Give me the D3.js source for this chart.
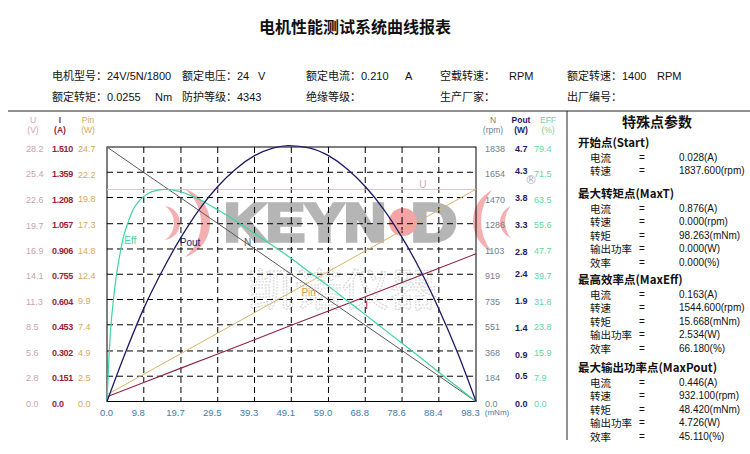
<!DOCTYPE html>
<html><head><meta charset="utf-8">
<script src="https://cdn.jsdelivr.net/npm/d3@7/dist/d3.min.js"></script>
<style>body{margin:0;background:#fff}svg{display:block}</style>
</head><body><svg id="c" width="750" height="454"></svg>
<script>
// ---------- data ----------
const torqueTicks = ["0.0","9.8","19.7","29.5","39.3","49.1","59.0","68.8","78.6","88.4","98.3"];
const uTicks   = ["0.0","2.8","5.6","8.5","11.3","14.1","16.9","19.7","22.6","25.4","28.2"];
const iTicks   = ["0.0","0.151","0.302","0.453","0.604","0.755","0.906","1.057","1.208","1.359","1.510"];
const pinTicks = ["0.0","2.5","4.9","7.4","9.9","12.4","14.8","17.3","19.8","22.2","24.7"];
const nTicks   = ["0.0","184","368","551","735","919","1103","1286","1470","1654","1838"];
const poutTicks= ["0.0","0.5","0.9","1.4","1.9","2.4","2.8","3.3","3.8","4.3","4.7"];
const effTicks = ["0.0","7.9","15.9","23.8","31.8","39.7","47.7","55.6","63.5","71.5","79.4"];

const torque    = [0, 9.8, 19.7, 29.5, 39.3, 49.1, 59.0, 68.8, 78.6, 88.4, 98.3];
const speedN    = [1837.6, 1654, 1470, 1286, 1103, 919, 735, 551, 368, 184, 0];
const currentI  = [0.028, 0.113, 0.198, 0.282, 0.367, 0.452, 0.537, 0.621, 0.706, 0.791, 0.876];
const powerIn   = [0.66, 2.65, 4.65, 6.64, 8.63, 10.62, 12.62, 14.61, 16.60, 18.59, 20.6];
const voltageU  = [23.5, 23.5, 23.5, 23.5, 23.5, 23.5, 23.5, 23.5, 23.5, 23.5, 23.5];

const poutTorque = [0, 4.9, 9.8, 14.7, 19.7, 24.6, 29.5, 34.4, 39.3, 44.2, 48.4, 54.1, 59.0, 63.9, 68.8, 73.7, 78.6, 83.5, 88.4, 93.4, 98.3];
const poutVals   = [0, 0.90, 1.72, 2.41, 3.03, 3.55, 3.97, 4.30, 4.54, 4.68, 4.726, 4.68, 4.54, 4.30, 3.97, 3.55, 3.03, 2.42, 1.71, 0.90, 0];

const effTorque = [0, 0.5, 1.0, 1.6, 2.4, 3.3, 4.3, 5.5, 7.0, 8.5, 9.8, 12.0, 15.7, 19.7, 24.6, 29.5, 34.4, 39.3, 44.2, 49.1, 54.1, 59.0, 63.9, 68.8, 73.7, 78.6, 83.5, 88.4, 93.4, 98.3];
const effVals   = [0, 13, 23, 30.5, 38.5, 45, 51, 55.5, 60, 62.5, 64, 65.5, 66.18, 65.4, 63.0, 59.8, 56.3, 52.4, 48.6, 44.6, 40.2, 36.0, 31.5, 27.1, 22.6, 18.2, 13.7, 9.1, 4.5, 0];

const headerRow1 = [
  {x:52, t:"电机型号：24V/5N/1800"}, {x:182, t:"额定电压：24"}, {x:258, t:"V"},
  {x:306, t:"额定电流：0.210"}, {x:405, t:"A"}, {x:440, t:"空载转速："}, {x:509, t:"RPM"},
  {x:567, t:"额定转速：1400"}, {x:657, t:"RPM"}];
const headerRow2 = [
  {x:52, t:"额定转矩：0.0255"}, {x:155, t:"Nm"}, {x:182, t:"防护等级：4343"},
  {x:306, t:"绝缘等级："}, {x:440, t:"生产厂家："}, {x:567, t:"出厂编号："}];

const sections = [
  {title:"开始点(Start)", rows:[["电流","0.028(A)"],["转速","1837.600(rpm)"]]},
  {title:"最大转矩点(MaxT)", rows:[["电流","0.876(A)"],["转速","0.000(rpm)"],["转矩","98.263(mNm)"],["输出功率","0.000(W)"],["效率","0.000(%)"]]},
  {title:"最高效率点(MaxEff)", rows:[["电流","0.163(A)"],["转速","1544.600(rpm)"],["转矩","15.668(mNm)"],["输出功率","2.534(W)"],["效率","66.180(%)"]]},
  {title:"最大输出功率点(MaxPout)", rows:[["电流","0.446(A)"],["转速","932.100(rpm)"],["转矩","48.420(mNm)"],["输出功率","4.726(W)"],["效率","45.110(%)"]]}
];

// ---------- layout ----------
const CJK = "'Noto Sans CJK SC','Noto Sans',sans-serif";
const NUM = "'Liberation Sans','Noto Sans CJK SC',sans-serif";
const svg = d3.select("#c");
const L = 107, R = 476, T = 147, B = 401.5;

const x = d3.scaleLinear().domain([0, 98.3]).range([L, R]);
const yU = d3.scaleLinear().domain([0, 28.2]).range([B, T]);
const yI = d3.scaleLinear().domain([0, 1.510]).range([B, T]);
const yPin = d3.scaleLinear().domain([0, 24.7]).range([B, T]);
const yN = d3.scaleLinear().domain([0, 1838]).range([B, T]);
const yPout = d3.scaleLinear().domain([0, 4.7]).range([B, T]);
const yEff = d3.scaleLinear().domain([0, 79.4]).range([B, T]);

// title
svg.append("text").attr("x", 355).attr("y", 26).attr("text-anchor","middle").attr("dominant-baseline","central")
  .attr("font-family", CJK).attr("font-size", 16).attr("font-weight","bold").attr("fill","#111").text("电机性能测试系统曲线报表");

// header
function hdr(rows, y){
  svg.append("g").selectAll("text").data(rows).join("text")
    .attr("x", d=>d.x).attr("y", y).attr("dominant-baseline","central")
    .attr("font-family", NUM).attr("font-size", 11).attr("fill","#111").text(d=>d.t);
}
hdr(headerRow1, 76);
hdr(headerRow2, 97);
svg.append("line").attr("x1",8).attr("x2",750).attr("y1",111).attr("y2",111).attr("stroke","#222").attr("stroke-width",1);
svg.append("line").attr("x1",567).attr("x2",567).attr("y1",111).attr("y2",440).attr("stroke","#222").attr("stroke-width",1);

// ---------- watermark ----------
const wm = svg.append("g");
function crescent(x0, cy, h, b1, b2, dir){
  const r1 = (h*h + b1*b1)/(2*b1), r2 = (h*h + b2*b2)/(2*b2);
  const sweep1 = dir > 0 ? 1 : 0;
  return `M${x0},${cy-h} A${r1},${r1} 0 0 ${sweep1} ${x0},${cy+h} A${r2},${r2} 0 0 ${1-sweep1} ${x0},${cy-h}Z`;
}
[[165,223,17,15,9,1],[185,223,34,25,16,1],[492,221,31,19,11,-1],[511,222,16,11,6,-1]].forEach(a=>{
  wm.append("path").attr("d", crescent(...a)).attr("fill","#f2a2a2").attr("opacity",0.85);
});
wm.append("text").attr("x",224).attr("y",241).attr("font-family","'Liberation Sans',Arial,sans-serif")
  .attr("font-weight","bold").attr("font-size",53).attr("textLength",162).attr("lengthAdjust","spacingAndGlyphs")
  .attr("fill","#b5b5b5").attr("stroke","#b5b5b5").attr("stroke-width",3.5).attr("stroke-linejoin","miter").text("KEYN");
wm.append("text").attr("x",411).attr("y",241).attr("font-family","'Liberation Sans',Arial,sans-serif")
  .attr("font-weight","bold").attr("font-size",53).attr("textLength",46).attr("lengthAdjust","spacingAndGlyphs")
  .attr("fill","#b5b5b5").attr("stroke","#b5b5b5").attr("stroke-width",3.5).text("D");
wm.append("circle").attr("cx",403).attr("cy",222).attr("r",14).attr("fill","#f5a3a6");
wm.append("text").attr("x",247).attr("y",306).attr("font-family",CJK).attr("font-size",44)
  .attr("textLength",190).attr("lengthAdjust","spacingAndGlyphs")
  .attr("fill","none").attr("stroke","#cdcdcd").attr("stroke-width",1).attr("stroke-dasharray","1.6 1.4").text("凯诺仪器");

// ---------- grid ----------
const g = svg.append("g");
const gridIdx = d3.range(1, 10);
g.selectAll(".vg").data(gridIdx).join("line")
  .attr("x1", i=>x(+torqueTicks[i])).attr("x2", i=>x(+torqueTicks[i]))
  .attr("y1", T).attr("y2", B).attr("stroke","#000").attr("stroke-width",1).attr("stroke-dasharray","6 4");
g.selectAll(".hg").data(gridIdx).join("line")
  .attr("x1", L).attr("x2", R)
  .attr("y1", i=>yU(+uTicks[i])).attr("y2", i=>yU(+uTicks[i]))
  .attr("stroke","#000").attr("stroke-width",1).attr("stroke-dasharray","6 4");
g.append("rect").attr("x",L).attr("y",T).attr("width",R-L).attr("height",B-T)
  .attr("fill","none").attr("stroke","#000").attr("stroke-width",1);

// ---------- curves ----------
function drawLine(xs, ys, ysc, color, w, curve){
  const pts = xs.map((t,i)=>[t, ys[i]]);
  svg.append("path").datum(pts)
    .attr("d", d3.line().x(d=>x(d[0])).y(d=>ysc(d[1])).curve(curve || d3.curveLinear))
    .attr("fill","none").attr("stroke", color).attr("stroke-width", w);
}
drawLine(torque, voltageU, yU, "#dcc4cc", 1);
drawLine(torque, powerIn, yPin, "#d9b46a", 1);
drawLine(torque, currentI, yI, "#8e2446", 1.1);
drawLine(torque, speedN, yN, "#5a5a5a", 1);
drawLine(effTorque, effVals, yEff, "#3fd3a2", 1.2, d3.curveMonotoneX);
drawLine(poutTorque, poutVals, yPout, "#1b1b64", 1.3, d3.curveMonotoneX);

// curve labels
const curveLabels = [
  {t:"Eff", xv:4.6, yv:50.3, sc:yEff, c:"#3fd3a2"},
  {t:"Pout", xv:19.4, yv:2.945, sc:yPout, c:"#1b1b64"},
  {t:"N", xv:36.5, yv:1150, sc:yN, c:"#5a5a5a"},
  {t:"U", xv:83.2, yv:24.0, sc:yU, c:"#d8a8b4"},
  {t:"Pin", xv:51.8, yv:10.6, sc:yPin, c:"#d9a050"},
  {t:"I", xv:68.8, yv:0.57, sc:yI, c:"#8e2446"}
];
svg.append("g").selectAll("text").data(curveLabels).join("text")
  .attr("x", d=>x(d.xv)).attr("y", d=>d.sc(d.yv)).attr("dominant-baseline","central")
  .attr("font-family", NUM).attr("font-size", 10).attr("fill", d=>d.c).text(d=>d.t);

// ---------- axes labels ----------
function colLabels(ticks, sc, xpos, color, bold, size, ls){
  svg.append("g").selectAll("text").data(ticks).join("text")
    .attr("x", xpos).attr("y", d=>sc(+d)+2).attr("dominant-baseline","central")
    .attr("font-family", NUM).attr("font-size", size||10).attr("font-weight", bold?"bold":"normal")
    .attr("letter-spacing", ls||0)
    .attr("fill", color).text(d=>d);
}
colLabels(uTicks, yU, 26, "#c9a3ab", false, 9);
colLabels(iTicks, yI, 52, "#9b1c3c", true, 9, -0.3);
colLabels(pinTicks, yPin, 78, "#d6a85a", false, 9);
colLabels(nTicks, yN, 485, "#6f7f8f", false, 9);
colLabels(poutTicks, yPout, 515, "#1b1b64", true, 9);
colLabels(effTicks, yEff, 534, "#5fd89e", false, 9);

const heads = [
  {x:33, a:"U", b:"(V)", c:"#d0a4ae", bold:false},
  {x:60, a:"I", b:"(A)", c:"#9b1c3c", bold:true},
  {x:88, a:"Pin", b:"(W)", c:"#d6a85a", bold:false},
  {x:493, a:"N", b:"(rpm)", c:"#6f7f8f", bold:false},
  {x:521, a:"Pout", b:"(W)", c:"#1b1b64", bold:true},
  {x:548, a:"EFF", b:"(%)", c:"#5fd89e", bold:false}
];
heads.forEach(h=>{
  [h.a, h.b].forEach((s,k)=>{
    svg.append("text").attr("x",h.x).attr("y",120+k*9.5).attr("text-anchor","middle").attr("dominant-baseline","central")
      .attr("font-family",NUM).attr("font-size",8.5).attr("font-weight",h.bold?"bold":"normal").attr("fill",h.c).text(s);
  });
});
svg.append("text").attr("x",531).attr("y",180).attr("text-anchor","middle").attr("dominant-baseline","central")
  .attr("font-family","'DejaVu Sans',sans-serif").attr("font-size",12).attr("fill","#9a9a9a").attr("opacity",0.8).text("®");

svg.append("g").selectAll("text").data(torqueTicks).join("text")
  .attr("x", (d,i)=>x(+d) - (i===0?0.5:5.5)).attr("y", 412).attr("text-anchor","middle").attr("dominant-baseline","central")
  .attr("font-family", NUM).attr("font-size", 9.5).attr("fill","#3a7db2").text(d=>d);
svg.append("text").attr("x",497).attr("y",412).attr("text-anchor","middle").attr("dominant-baseline","central")
  .attr("font-family", NUM).attr("font-size", 8).attr("fill","#3a7db2").text("(mNm)");

// ---------- special points panel ----------
svg.append("text").attr("x",657).attr("y",121).attr("text-anchor","middle").attr("dominant-baseline","central")
  .attr("font-family",CJK).attr("font-size",14).attr("font-weight","bold").attr("fill","#111").text("特殊点参数");
const secY = [142, 193, 279, 367];
sections.forEach((s, si)=>{
  const y0 = secY[si];
  svg.append("text").attr("x",578).attr("y",y0).attr("dominant-baseline","central")
    .attr("font-family",CJK).attr("font-size",11.5).attr("font-weight","bold").attr("fill","#111").text(s.title);
  s.rows.forEach((r, ri)=>{
    const y = y0 + 15 + ri*13.5;
    svg.append("text").attr("x",590).attr("y",y).attr("dominant-baseline","central")
      .attr("font-family",CJK).attr("font-size",10.5).attr("fill","#111").text(r[0]);
    svg.append("text").attr("x",642).attr("y",y).attr("text-anchor","middle").attr("dominant-baseline","central")
      .attr("font-family",NUM).attr("font-size",10).attr("fill","#111").text("=");
    svg.append("text").attr("x",679).attr("y",y).attr("dominant-baseline","central")
      .attr("font-family",NUM).attr("font-size",10).attr("fill","#111").text(r[1]);
  });
});
</script></body></html>
